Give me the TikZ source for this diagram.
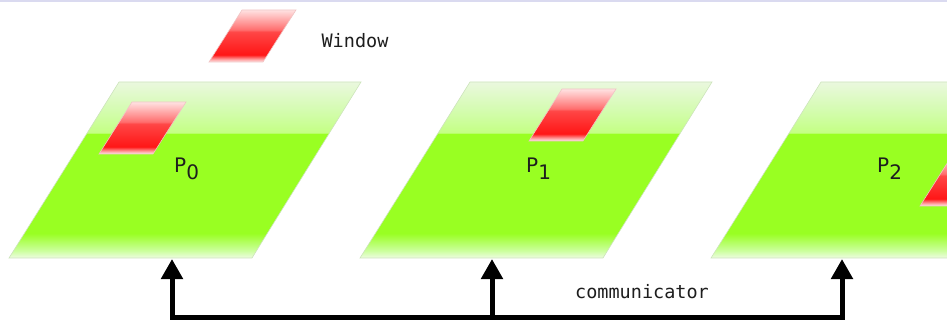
\documentclass[tikz,border=0pt]{standalone}
\usepackage{fontspec}
\newfontfamily\labelfont{DejaVu Sans}
\newfontfamily\codefont{DejaVu Sans Mono}
\usetikzlibrary{arrows.meta}

\definecolor{framelilac}{RGB}{218,218,240}
\definecolor{inkgray}{RGB}{30,30,30}
\definecolor{plategreen}{RGB}{153,255,34}
\definecolor{platewhite}{RGB}{238,252,226}
\definecolor{platepale}{RGB}{205,255,160}
\definecolor{platelight}{RGB}{196,255,132}
\definecolor{platemist}{RGB}{212,252,176}
\definecolor{platetop}{RGB}{234,248,222}
\definecolor{plateedge}{RGB}{205,228,188}
\definecolor{winred}{RGB}{255,22,22}
\definecolor{winwhite}{RGB}{255,236,236}
\definecolor{winpale}{RGB}{255,150,150}
\definecolor{winmid}{RGB}{255,70,70}
\definecolor{winlight}{RGB}{255,110,110}
\definecolor{wintop}{RGB}{255,226,226}
\definecolor{winedge}{RGB}{240,196,196}

\pgfdeclareverticalshading{plateshade}{100bp}{%
  color(0bp)=(platewhite); color(25bp)=(platewhite);
  color(27bp)=(platepale); color(32bp)=(plategreen);
  color(60.3bp)=(plategreen); color(60.6bp)=(platelight);
  color(67bp)=(platemist); color(75bp)=(platetop); color(100bp)=(platetop)}
\pgfdeclareverticalshading{windowshade}{100bp}{%
  color(0bp)=(winwhite); color(25bp)=(winwhite);
  color(28bp)=(winpale); color(32bp)=(winred);
  color(54bp)=(winmid); color(56bp)=(winlight);
  color(75bp)=(wintop); color(100bp)=(wintop)}

\begin{document}
\begin{tikzpicture}[x=1pt, y=-1pt,
    plate/.style={shading=plateshade, draw=plateedge, line width=0.6pt},
    window/.style={shading=windowshade, draw=winedge, line width=0.6pt},
    proc label/.style={anchor=base west, inner sep=0pt, text=inkgray,
                       font=\labelfont\fontsize{20}{22}\selectfont},
    code/.style={text=inkgray, font=\codefont\fontsize{18.5}{20}\selectfont},
    wire/.style={line width=5pt, black}]
    \useasboundingbox (0,0) rectangle (947,320);
    \clip (0,0) rectangle (947,320);
    \fill[framelilac] (0,0) rectangle (947,2.5);
    % legend
    \path[window] (209,62) -- (263,62) -- (296,10) -- (242,10) -- cycle;
    \node[code] (window label) at (355,41) {Window};
    % P0
    \path[plate] (9,258) -- (252,258) -- (361,82) -- (119,82) -- cycle;
    \path[window] (99,154) -- (153,154) -- (186,102) -- (132,102) -- cycle;
    \node[proc label] (p0 label) at (174,173) {P\raisebox{-7pt}{0}};
    % P1
    \path[plate] (360,258) -- (603,258) -- (712,82) -- (470,82) -- cycle;
    \path[window] (529,141) -- (583,141) -- (616,89) -- (562,89) -- cycle;
    \node[proc label] (p1 label) at (526,173) {P\raisebox{-7pt}{1}};
    % P2
    \path[plate] (711,258) -- (954,258) -- (1063,82) -- (821,82) -- cycle;
    \path[window] (920,206) -- (974,206) -- (1007,154) -- (953,154) -- cycle;
    \node[proc label] (p2 label) at (877,173) {P\raisebox{-7pt}{2}};
    % communicator
    \coordinate (p0 in) at (172,259);
    \coordinate (p1 in) at (492,259);
    \coordinate (p2 in) at (842,259);
    \coordinate (b0) at (172,317);
    \coordinate (b1) at (492,317);
    \coordinate (b2) at (842,317);
    \draw[wire, {Triangle[width=21pt,length=20pt]}-{Triangle[width=21pt,length=20pt]}]
        (p0 in) -- (b0) -- (b2) -- (p2 in);
    \draw[wire, -{Triangle[width=21pt,length=20pt]}] (b1) -- (p1 in);
    \node[code] (comm label) at (642,292) {communicator};
\end{tikzpicture}
\end{document}
